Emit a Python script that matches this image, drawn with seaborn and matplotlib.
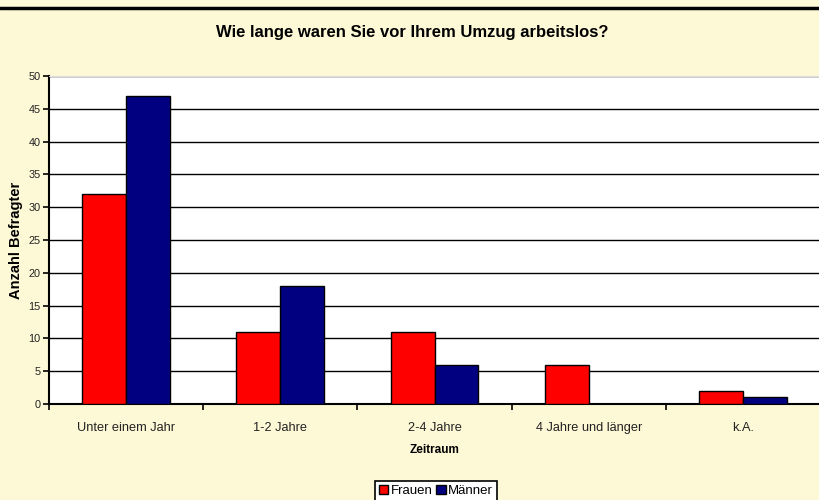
import matplotlib
import matplotlib.pyplot as plt
import matplotlib.lines as mlines
import seaborn as sns
import pandas as pd
matplotlib.use('Agg')

# Daten
zeitraum = ['Unter einem Jahr', '1-2 Jahre', '2-4 Jahre', '4 Jahre und länger', 'k.A.']
frauen = [32, 11, 11, 6, 2]
maenner = [47, 18, 6, 0, 1]
gruppen = ['Frauen', 'Männer']
farben = ['#FF0000', '#000080']

df = pd.DataFrame({
    'Zeitraum': zeitraum * 2,
    'Anzahl': frauen + maenner,
    'Gruppe': [gruppen[0]] * len(zeitraum) + [gruppen[1]] * len(zeitraum),
})

sns.set_style('white')
plt.rcParams['font.family'] = ['Liberation Sans', 'DejaVu Sans']
plt.rcParams['text.color'] = 'black'
plt.rcParams['axes.labelcolor'] = 'black'

bg = '#FDF8D6'
fig = plt.figure(figsize=(8.2, 5), dpi=100, facecolor=bg)
ax = fig.add_axes([49 / 820, 1 - 404 / 500, 1 - 49 / 820, (404 - 76) / 500])
ax.set_facecolor('white')

sns.barplot(data=df, x='Zeitraum', y='Anzahl', hue='Gruppe',
            palette=farben, width=0.57, edgecolor='black', linewidth=1,
            saturation=1, ax=ax, zorder=3)

ax.set_ylim(0, 50)
ax.set_xlim(-0.5, len(zeitraum) - 0.5)
ax.set_yticks(range(0, 51, 5))
ax.yaxis.grid(True, color='black', linewidth=1, zorder=0)
ax.set_axisbelow(True)

# Achsen
ax.spines['right'].set_visible(False)
ax.spines['top'].set_color('#DDDDDD')
ax.spines['left'].set_color('black')
ax.spines['bottom'].set_color('black')
ax.spines['left'].set_linewidth(1.5)
ax.spines['bottom'].set_linewidth(1.5)

ax.tick_params(axis='y', left=True, length=4, width=1.2, color='black',
               labelsize=7.8, pad=2, labelcolor='#222222')
ax.tick_params(axis='x', which='major', length=0, labelsize=9.2, pad=13,
               labelcolor='#222222')
ax.set_xticks([i - 0.5 for i in range(len(zeitraum) + 1)], minor=True)
ax.tick_params(axis='x', which='minor', bottom=True, length=4, width=1.2, color='black')

ax.set_xlabel('Zeitraum', fontsize=8.5, fontweight='bold', labelpad=7)
ax.set_ylabel('Anzahl Befragter', fontsize=10.5, fontweight='bold', labelpad=4)
fig.text(0.503, 0.934, 'Wie lange waren Sie vor Ihrem Umzug arbeitslos?',
         ha='center', va='center', fontsize=12, fontweight='bold')

# Legende
leg = ax.legend(loc='center', bbox_to_anchor=(436 / 820, 1 - 491 / 500),
                bbox_transform=fig.transFigure, ncol=2, frameon=True,
                fontsize=9.5, handlelength=0.7, handleheight=0.7,
                handletextpad=0.2, columnspacing=0.3, borderpad=0.3,
                fancybox=False, title=None)
leg.get_frame().set_edgecolor('black')
leg.get_frame().set_linewidth(1.2)
leg.get_frame().set_facecolor('white')
leg.get_frame().set_alpha(1)

# Rahmenlinie oben
fig.add_artist(mlines.Line2D([0, 1], [1 - 8 / 500, 1 - 8 / 500],
                             transform=fig.transFigure, color='black', linewidth=2.5))

plt.savefig('out.png', dpi=100, facecolor=bg)
